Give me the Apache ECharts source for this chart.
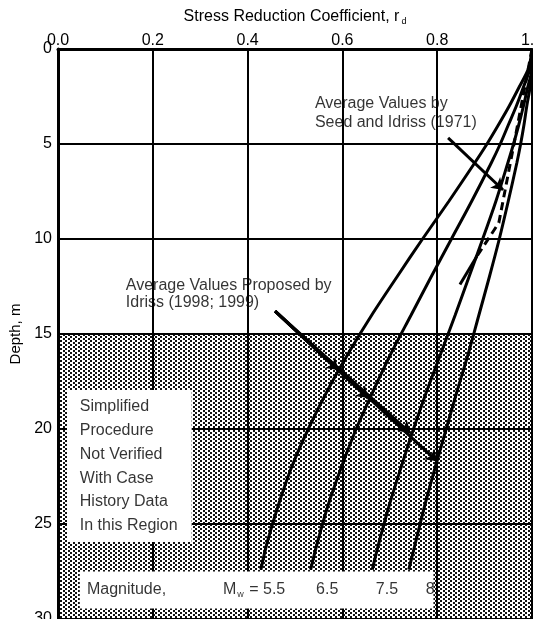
<!DOCTYPE html>
<html><head><meta charset="utf-8">
<script src="https://cdn.jsdelivr.net/npm/echarts@6/dist/echarts.min.js"></script>
<style>html,body{margin:0;padding:0;background:#fff}#c{width:533px;height:619px}</style>
</head><body><div id="c"></div>
<script>
// ---- data ----
const depths = [0, 1, 2, 3, 4, 5, 6, 8, 10, 12, 14, 16, 18, 20, 22, 24, 26, 27.4];
const rdM55 = [1.000, 0.993, 0.973, 0.952, 0.929, 0.905, 0.879, 0.825, 0.769, 0.715, 0.662, 0.613, 0.568, 0.528, 0.493, 0.465, 0.441, 0.428];
const rdM65 = [1.000, 0.996, 0.982, 0.967, 0.950, 0.933, 0.914, 0.873, 0.830, 0.787, 0.745, 0.703, 0.665, 0.629, 0.598, 0.570, 0.547, 0.533];
const rdM75 = [1.000, 1.000, 0.991, 0.982, 0.972, 0.961, 0.949, 0.924, 0.896, 0.867, 0.838, 0.808, 0.778, 0.750, 0.724, 0.699, 0.677, 0.663];
const rdM80 = [1.000, 1.000, 0.996, 0.989, 0.983, 0.976, 0.968, 0.950, 0.931, 0.910, 0.888, 0.866, 0.842, 0.819, 0.796, 0.774, 0.754, 0.740];
const magnitudes = ['5.5', '6.5', '7.5', '8'];
const seedDepths = [0, 5, 9.15, 10.9];
const seedRd = [1.000, 0.962, 0.930, 0.884];
const seedTailDepths = [10.9, 12.4];
const seedTailRd = [0.884, 0.848];
const xTicks = [0.0, 0.2, 0.4, 0.6, 0.8, 1.0];
const yTicks = [0, 5, 10, 15, 20, 25, 30];
const shadedDepths = [15, 30];
const xTitle = 'Stress Reduction Coefficient, r';
const xTitleSub = 'd';
const yTitle = 'Depth, m';
const seedNote = ['Average Values by', 'Seed and Idriss (1971)'];
const idrissNote = ['Average Values Proposed by', 'Idriss (1998; 1999)'];
const regionNote = ['Simplified', 'Procedure', 'Not Verified', 'With Case', 'History Data', 'In this Region'];

// ---- annotation anchors (data coordinates) ----
const seedArrow = [[0.823, 4.68], [0.939, 7.42]];
const idrissArrowStart = [0.458, 13.8];
const idrissArrowTips = [[0.591, 16.9], [0.654, 18.37], [0.743, 20.2], [0.800, 21.7]];
const regionBox = [[0.019, 17.95], [0.282, 25.95]];
const magBox = [[0.046, 27.5], [0.792, 29.45]];

const FONT = 'Liberation Sans, Arial, sans-serif';
const zip = (xs, ys) => xs.map((x, i) => [x, ys[i]]);

// stipple pattern
const pc = document.createElement('canvas');
pc.width = 5; pc.height = 4;
const g = pc.getContext('2d');
g.fillStyle = '#fff'; g.fillRect(0, 0, 5, 4);
g.fillStyle = '#111';
g.fillRect(0, 0, 2, 2); g.fillRect(3, 2, 2, 2);

const chart = echarts.init(document.getElementById('c'));

function curve(vals) {
  return {
    type: 'line', data: zip(vals, depths), smooth: 0.3, showSymbol: false, symbol: 'none',
    lineStyle: { color: '#000', width: 3 }, z: 4, silent: true
  };
}

const texts = [];
seedNote.forEach((t, i) => texts.push({ value: [0.542, 2.85 + i * 1.0], label: { formatter: t, align: 'left' } }));
idrissNote.forEach((t, i) => texts.push({ value: [0.143, 12.47 + i * 0.9], label: { formatter: t, align: 'left' } }));
regionNote.forEach((t, i) => texts.push({ value: [0.046, 18.84 + i * 1.25], label: { formatter: t, align: 'left' } }));
texts.push({ value: [0.061, 28.47], label: { formatter: 'Magnitude,', align: 'left' } });
texts.push({ value: [0.348, 28.47], label: { formatter: '{a|M}{s|w}{a| = ' + magnitudes[0] + '}', align: 'left' } });
const magX = [0.568, 0.694, 0.785];
magnitudes.slice(1).forEach((m, i) => texts.push({ value: [magX[i], 28.47], label: { formatter: m, align: 'center' } }));

const arrows = [{ coords: seedArrow }].concat(idrissArrowTips.map(t => ({ coords: [idrissArrowStart, t] })));

const option = {
  animation: false,
  backgroundColor: '#fff',
  grid: { left: 58, right: 1, top: 49, bottom: 0, containLabel: false, outerBoundsMode: 'none' },
  xAxis: {
    type: 'value', position: 'top', min: xTicks[0], max: xTicks[xTicks.length - 1], interval: 0.2, z: 2,
    name: '{n|' + xTitle + '}{s|' + xTitleSub + '}', nameLocation: 'middle', nameGap: 23,
    nameTextStyle: { fontFamily: FONT, color: '#000', rich: { n: { fontSize: 16, fontFamily: FONT, color: '#000' }, s: { fontSize: 9, fontFamily: FONT, color: '#000', padding: [10, 0, 0, 2] } } },
    axisLine: { lineStyle: { color: '#000', width: 3 } },
    axisTick: { show: false },
    axisLabel: { color: '#000', fontFamily: FONT, fontSize: 16, margin: 0, formatter: v => v.toFixed(1) },
    splitLine: { show: true, lineStyle: { color: '#000', width: 2 } }
  },
  yAxis: {
    type: 'value', inverse: true, min: yTicks[0], max: yTicks[yTicks.length - 1], interval: 5, z: 2,
    name: yTitle, nameLocation: 'middle', nameGap: 32,
    nameTextStyle: { fontFamily: FONT, fontSize: 15, color: '#000' },
    axisLine: { lineStyle: { color: '#000', width: 3 } },
    axisTick: { show: false },
    axisLabel: { color: '#000', fontFamily: FONT, fontSize: 16, margin: 6 },
    splitLine: { show: true, lineStyle: { color: '#000', width: 2 } }
  },
  series: [
    {
      type: 'scatter', data: [[0.5, shadedDepths[0]]], symbolSize: 0, z: 1, silent: true,
      markArea: { silent: true, z: 1, itemStyle: { color: { image: pc, repeat: 'repeat' }, opacity: 1 },
        data: [[{ coord: [xTicks[0], shadedDepths[0]] }, { coord: [xTicks[xTicks.length - 1], shadedDepths[1]] }]] }
    },
    {
      type: 'scatter', data: [[0.1, 20]], symbolSize: 0, z: 3, silent: true,
      markArea: { silent: true, z: 3, itemStyle: { color: '#fff', opacity: 1, borderWidth: 0 },
        data: [[{ coord: regionBox[0] }, { coord: regionBox[1] }], [{ coord: magBox[0] }, { coord: magBox[1] }]] }
    },
    curve(rdM55), curve(rdM65), curve(rdM75), curve(rdM80),
    {
      type: 'line', data: zip(seedRd, seedDepths), showSymbol: false, symbol: 'none', z: 4, silent: true,
      lineStyle: { color: '#000', width: 3, type: [8, 5] }
    },
    {
      type: 'line', data: zip(seedTailRd, seedTailDepths), showSymbol: false, symbol: 'none', z: 4, silent: true,
      lineStyle: { color: '#000', width: 3 }
    },
    {
      type: 'lines', coordinateSystem: 'cartesian2d', z: 4, silent: true,
      symbol: ['none', 'arrow'], symbolSize: 11,
      lineStyle: { color: '#000', width: 3, opacity: 1, curveness: 0 },
      data: arrows
    },
    {
      type: 'scatter', data: texts, symbolSize: 1, itemStyle: { color: 'rgba(0,0,0,0)' }, z: 5, silent: true,
      label: {
        show: true, position: 'inside', verticalAlign: 'middle', color: '#000', fontFamily: FONT, fontSize: 16,
        rich: { a: { fontSize: 16, fontFamily: FONT, color: '#000' }, s: { fontSize: 9, fontFamily: FONT, color: '#000', padding: [10, 1, 0, 1] } }
      }
    }
  ]
};
chart.setOption(option);
</script></body></html>
